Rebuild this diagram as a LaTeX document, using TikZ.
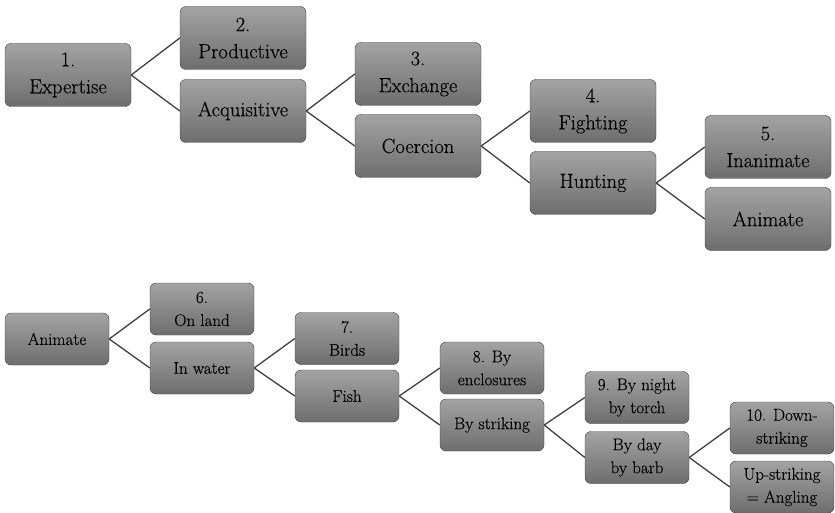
\documentclass[tikz,border=0pt]{standalone}
\usepackage{fontspec}
\setmainfont{Latin Modern Roman}[FakeBold=0.3]
\begin{document}
\begin{tikzpicture}[x=1pt,y=1pt,thick,
big/.style={
rectangle,
rounded corners=6pt,
draw=black!75,
thin,
top color=black!36,
bottom color=black!57,
align=center,
minimum width=126pt,
minimum height=63pt,
node distance=175pt,
font=\fontsize{20.5}{27}\selectfont
},
small/.style={
big,
minimum width=104pt,
minimum height=52pt,
node distance=145pt,
font=\fontsize{17}{23}\selectfont
},
link/.style={draw=black!75,line width=1.3pt}
]
\useasboundingbox (0,0) rectangle (835,-513);

% first tree
\node (expert) [big] at (68,-75) {1.\\Expertise};
\node (product) [big,right of=expert,yshift=37pt] {2.\\Productive};
\node (acquis) [big,right of=expert,yshift=-36pt] {Acquisitive};
\node (exchange) [big,right of=acquis,yshift=37pt] {3.\\Exchange};
\node (coerce) [big,right of=acquis,yshift=-35pt] {Coercion};
\node (fight) [big,right of=coerce,yshift=35pt] {4.\\Fighting};
\node (hunt) [big,right of=coerce,yshift=-37pt] {Hunting};
\node (inanim) [big,right of=hunt,yshift=36pt] {5.\\Inanimate};
\node (anim) [big,right of=hunt,yshift=-36pt] {Animate};

\draw[link] (expert.east) -- (product.west);
\draw[link] (expert.east) -- (acquis.west);
\draw[link] (acquis.east) -- (exchange.west);
\draw[link] (acquis.east) -- (coerce.west);
\draw[link] (coerce.east) -- (fight.west);
\draw[link] (coerce.east) -- (hunt.west);
\draw[link] (hunt.east) -- (inanim.west);
\draw[link] (hunt.east) -- (anim.west);

% second tree
\node (animal) [small] at (57,-339) {Animate};
\node (land) [small,right of=animal,yshift=30pt] {6.\\On land};
\node (water) [small,right of=animal,yshift=-29pt] {In water};
\node (birds) [small,right of=water,yshift=29.5pt] {7.\\Birds};
\node (fish) [small,right of=water,yshift=-28pt] {Fish};
\node (enclose) [small,right of=fish,yshift=28pt] {8. By\\enclosures};
\node (strike) [small,right of=fish,yshift=-29pt] {By striking};
\node (night) [small,right of=strike,yshift=27.5pt] {9. By night\\by torch};
\node (day) [small,right of=strike,yshift=-32.5pt] {By day\\by barb};
\node (down) [small,right of=day,yshift=29.5pt] {10. Down-\\striking};
\node (up) [small,right of=day,yshift=-29.5pt] {Up-striking\\= Angling};

\draw[link] (animal.east) -- (land.west);
\draw[link] (animal.east) -- (water.west);
\draw[link] (water.east) -- (birds.west);
\draw[link] (water.east) -- (fish.west);
\draw[link] (fish.east) -- (enclose.west);
\draw[link] (fish.east) -- (strike.west);
\draw[link] (strike.east) -- (night.west);
\draw[link] (strike.east) -- (day.west);
\draw[link] (day.east) -- (down.west);
\draw[link] (day.east) -- (up.west);
\end{tikzpicture}
\end{document}
